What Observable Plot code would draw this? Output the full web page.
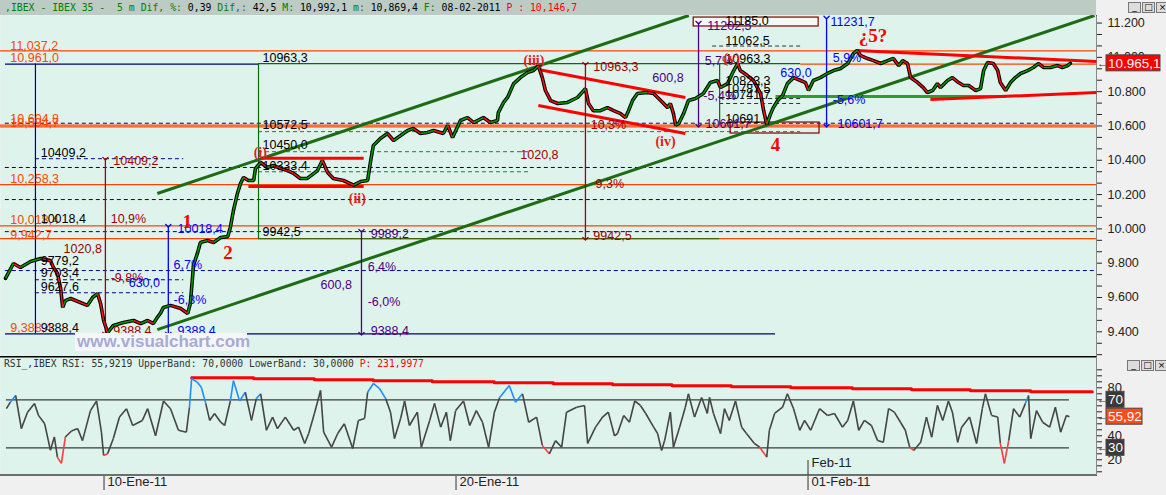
<!DOCTYPE html>
<html><head><meta charset="utf-8">
<script src="https://cdn.jsdelivr.net/npm/d3@7"></script>
<script src="https://cdn.jsdelivr.net/npm/@observablehq/plot@0.6"></script>
<style>
body{margin:0;background:#f0f0f0;width:1166px;height:495px;overflow:hidden;position:relative;font-family:"Liberation Sans",Arial,sans-serif}
#hdr{position:absolute;left:0;top:0;width:1096px;height:15px;background:#bccbc4;font:9.8px "DejaVu Sans Mono",monospace;line-height:15px;white-space:pre;padding-left:5px;box-sizing:border-box;color:#000}
#hdr .g{color:#008000}
#hdr .r{color:#ff0000}
#main{position:absolute;left:0;top:15px}
#rsi{position:absolute;left:0;top:356px}
.btns{position:absolute;display:flex;gap:1px}
.btns span{display:block;width:11px;height:9px;border:1px solid #777;background:#ddd;font:9px/9px "DejaVu Sans",sans-serif;text-align:center;color:#000}
</style></head><body>
<div id="hdr"><span class="g">,IBEX - IBEX 35 -  5 m Dif, %:</span> 0,39 <span class="g">Dif,:</span> 42,5 <span class="g">M:</span> 10,992,1 <span class="g">m:</span> 10,869,4 <span class="g">F:</span> 08-02-2011 <span class="r">P : 10,146,7</span></div>
<div class="btns" style="left:1128px;top:2px"><span>_</span><span>□</span><span>×</span></div>
<div id="main"></div>
<div id="rsi"></div>
<div class="btns" style="left:1127px;top:360px"><span>_</span><span>□</span><span>×</span></div>
<script>
// ---------- DATA ----------
// time axis: trading days relative to 10-Ene-11 open
const priceT = [-2.25,-2.07,-1.91,-1.68,-1.45,-1.23,-1.16,-1.07,-1.00,-0.95,-0.89,-0.77,-0.55,-0.39,-0.27,-0.16,-0.09,-0.02,0.07,0.20,0.43,0.66,0.82,0.98,1.11,1.20,1.27,1.34,1.50,1.73,1.89,1.95,2.00,2.02,2.11,2.18,2.34,2.48,2.64,2.80,2.86,2.93,3.02,3.09,3.16,3.27,3.39,3.43,3.55,3.70,3.84,4.00,4.16,4.30,4.45,4.61,4.84,4.95,5.07,5.20,5.43,5.66,5.82,5.98,6.05,6.11,6.27,6.43,6.57,6.73,6.89,7.02,7.18,7.34,7.48,7.70,7.80,7.91,8.09,8.25,8.39,8.61,8.77,8.93,8.95,9.07,9.16,9.30,9.45,9.61,9.75,9.86,9.95,10.02,10.14,10.30,10.52,10.75,10.93,11.00,11.11,11.27,11.43,11.57,11.73,11.84,11.91,12.00,12.11,12.34,12.48,12.64,12.80,12.86,12.93,12.98,13.05,13.16,13.27,13.43,13.61,13.77,13.93,14.00,14.16,14.30,14.39,14.45,14.61,14.75,14.91,14.98,15.05,15.14,15.20,15.30,15.41,15.52,15.66,15.82,15.93,16.00,16.11,16.27,16.43,16.57,16.73,16.89,17.02,17.11,17.18,17.34,17.48,17.64,17.80,17.93,18.05,18.14,18.25,18.32,18.48,18.61,18.70,18.82,18.93,19.00,19.16,19.27,19.41,19.52,19.64,19.80,19.91,19.98,20.07,20.20,20.30,20.36,20.48,20.59,20.70,20.82,20.98,21.11,21.23,21.34,21.50,21.66,21.77,21.89,21.95];
const priceP = [9711,9798,9775,9810,9827,9815,9775,9740,9658,9542,9582,9594,9571,9554,9600,9623,9565,9466,9395,9437,9454,9466,9448,9466,9448,9484,9507,9542,9554,9536,9507,9565,9716,9786,9857,9921,9932,9921,9950,9955,10008,10107,10206,10264,10300,10282,10282,10352,10387,10358,10370,10352,10340,10323,10294,10294,10340,10399,10329,10294,10282,10255,10276,10282,10399,10486,10527,10556,10515,10544,10574,10585,10556,10562,10574,10556,10603,10533,10632,10649,10620,10649,10620,10632,10678,10737,10766,10847,10882,10911,10923,10950,10882,10807,10748,10731,10737,10766,10818,10731,10689,10689,10707,10689,10672,10649,10689,10748,10789,10795,10789,10748,10707,10731,10672,10605,10614,10672,10748,10760,10789,10853,10865,10824,10847,10923,10963,10923,10894,10865,10789,10689,10610,10672,10707,10748,10777,10847,10882,10865,10853,10807,10865,10882,10906,10923,10935,10964,11022,11040,11011,10993,10981,10964,10981,10993,10952,10981,10964,10882,10853,10824,10795,10807,10847,10824,10865,10882,10853,10836,10836,10807,10818,10923,10970,10964,10923,10853,10807,10853,10882,10906,10923,10941,10964,10941,10941,10952,10941,10952,10965];

const rsiT = [-2.23,-2.14,-2.02,-1.89,-1.75,-1.59,-1.50,-1.36,-1.23,-1.14,-1.07,-0.98,-0.89,-0.75,-0.61,-0.50,-0.32,-0.18,-0.07,-0.02,0.07,0.20,0.34,0.50,0.64,0.86,0.98,1.16,1.34,1.50,1.68,1.86,1.93,1.98,2.11,2.20,2.30,2.39,2.50,2.64,2.73,2.86,2.93,3.07,3.20,3.34,3.45,3.55,3.68,3.82,3.93,4.11,4.30,4.41,4.55,4.64,4.77,4.91,4.98,5.16,5.30,5.45,5.64,5.77,5.91,5.98,6.11,6.25,6.39,6.50,6.59,6.73,6.82,6.93,7.11,7.20,7.39,7.50,7.64,7.77,7.86,7.98,8.16,8.30,8.45,8.59,8.73,8.86,8.98,9.20,9.34,9.50,9.64,9.82,9.95,10.11,10.25,10.39,10.50,10.73,10.91,10.98,11.16,11.32,11.45,11.59,11.66,11.80,11.93,12.05,12.18,12.30,12.48,12.57,12.66,12.73,12.86,12.93,13.07,13.20,13.27,13.41,13.57,13.70,13.75,13.84,14.00,14.09,14.20,14.34,14.48,14.59,14.77,14.89,15.05,15.11,15.23,15.41,15.52,15.66,15.80,15.91,16.05,16.25,16.43,16.59,16.77,16.89,17.02,17.14,17.27,17.43,17.57,17.70,17.82,17.95,18.09,18.20,18.30,18.39,18.55,18.68,18.80,18.93,19.05,19.18,19.27,19.39,19.48,19.66,19.82,19.95,20.02,20.16,20.30,20.36,20.45,20.55,20.66,20.80,20.93,21.00,21.05,21.18,21.32,21.48,21.61,21.73,21.86,21.93];
const rsiV = [62.6,68,73.6,46,59.7,67,57,50,28,39,22,17,39,44,46,36,61,69,43,23.6,25,37.7,55.6,62.6,48.6,52.8,62.6,40,69,62.6,44.6,43,63.8,87.7,84.6,80.5,67,52.8,58.6,51.3,48.6,69,86,69,76.3,52.8,71,75,44.6,55.6,46,55.6,44.6,47.2,33.6,41.9,58.6,77.8,43,30.5,41.9,50,29.4,52.8,54.4,76.3,83.6,79.4,71,59.7,37.7,54.4,69,48.6,59.7,30.5,52.8,67,47.2,59.7,36,61,69,48.6,61,51.3,30.5,59.7,72,81.9,68,75,51.3,55.6,32,25,36,30.5,59.7,63.8,65.3,33.6,47.2,55.6,59.7,40,41.9,57,51.3,69,65.3,58.6,47.2,41.9,27.8,36,59.7,30.5,47.2,63.8,75,55.6,72,58.6,72,58.6,41.9,62.6,52.8,69,47.2,41.9,33.6,30.5,22.2,44.6,58.6,63.8,75,62.6,44.6,52.8,44.6,62.6,57,58.6,47.2,52.8,69,44.6,52.8,48.6,36,34.6,62.6,59.7,51.3,44.6,30.5,27.8,34.6,55.6,38.8,65.3,52.8,69,59.7,34.6,47.2,55.6,33.6,62.6,75,57,55.6,33.6,17,36,62.6,55.6,67,73.6,37.7,61,51.3,47.2,63.8,43,57,55.92];

const rsiCapT = [1.98,3.39,4.77,6.11,7.45,8.86,10.2,11.55,12.9,14.25,15.6,17.0,18.34,19.68,21.05,22.45];
const rsiCapV = [88.3,87.5,86.7,85.9,85.0,84.2,83.4,82.5,81.7,80.8,80.0,79.2,78.3,77.5,76.7,76.7];
const rsiBands = [70, 30];
const rsiTickLabels = [20, 40, 80];

const dateTicks = [{t:0,s:"10-Ene-11"},{t:8,s:"20-Ene-11"},{t:16,s:"01-Feb-11"}];
const monthTicks = [{t:16,s:"Feb-11"}];

// horizontal levels
const orangeFull = [11037.2, 10604.8, 10594.5, 10258.3, 10018.0, 9942.7];
const orangeSegs = [{p:10961.0,t1:15.82,t2:22.545}];
const navySegs = [{p:10961.0,t1:-2.25,t2:3.5},{p:9388.4,t1:-2.25,t2:15.25}];
const greenSegs = [{p:10963.3,t1:3.5,t2:15.82},{p:9942.5,t1:3.5,t2:13.98}];
const navyDashFull = [10616, 10358, 10171, 9984, 9757];
const navyDashShort = [{p:10409.2,t1:-1.57,t2:1.80},{p:9703.4,t1:-1.57,t2:1.80},{p:9627.6,t1:-1.57,t2:1.80}];
const greenDash = [{p:10567,t1:3.5,t2:15.82},{p:10450,t1:3.5,t2:9.68},{p:10333,t1:3.5,t2:9.68}];
const darkDash = [{p:11066,t1:13.82,t2:15.82},{p:10760,t1:13.98,t2:15.82},{p:10731,t1:13.98,t2:15.82}];
const navyVert = [{t:-1.57,p1:9388.4,p2:10961}];
const greenVert = [{t:3.5,p1:9942.5,p2:10963.3},{t:13.98,p1:10601.7,p2:10963.3}];

const channels = [{t1:1.20,p1:10206,t2:13.28,p2:11244},{t1:1.20,p1:9413,t2:22.5,p2:11244}];
const redLines = [
  {t1:3.55,p1:10412,t2:5.89,p2:10412},{t1:3.27,p1:10247,t2:5.89,p2:10247},
  {t1:9.86,p1:10929,t2:13.2,p2:10766},{t1:9.86,p1:10719,t2:13.2,p2:10556},
  {t1:17.07,p1:11040,t2:22.545,p2:10976},{t1:18.77,p1:10754,t2:22.545,p2:10795}];
const greenSupport = [{t1:15.25,p1:10772,t2:20.48,p2:10772}];
const boxTop = [{t1:13.39,t2:16.23,p1:11232,p2:11180}];
const boxLow = [{t1:14.23,t2:16.25,p1:10620,p2:10556}];

const arrowsDarkRed = [{t:0.02,top:10409.2,bot:9388.4},{t:10.93,top:10963.3,bot:9942.5}];
const arrowsBlue = [{t:1.45,top:10018.4,bot:9388.4},{t:16.41,top:11231.7,bot:10601.7}];
const arrowsPurple = [{t:5.84,top:9989.2,bot:9388.4},{t:13.5,top:11202.5,bot:10601.7}];

const orangeLabels = [{t:-2.14,p:11069,s:"11,037,2"},{t:-2.14,p:10997,s:"10,961,0"},{t:-2.14,p:10640,s:"10,604,8"},{t:-2.14,p:10620,s:"10,594,7"},{t:-2.14,p:10288,s:"10,258,3"},{t:-2.14,p:10052,s:"10,018,4"},{t:-2.14,p:9967,s:"9,942,7"},{t:-2.14,p:9420,s:"9,388,4"}];
const blackLabels = [{t:3.59,p:10999,s:"10963,3"},{t:3.59,p:10608,s:"10572,5"},{t:3.59,p:10491,s:"10450,0"},{t:3.59,p:10369,s:"10333,4"},{t:3.59,p:9979,s:"9942,5"},{t:-1.45,p:10445,s:"10409,2"},{t:-1.45,p:10055,s:"10018,4"},{t:-1.45,p:9815,s:"9779,2"},{t:-1.45,p:9740,s:"9703,4"},{t:-1.45,p:9664,s:"9627,6"},{t:-1.45,p:9420,s:"9388,4"},{t:14.11,p:11212,s:"11185,0"},{t:14.11,p:11098,s:"11062,5"},{t:14.11,p:10993,s:"10963,3"},{t:14.11,p:10865,s:"10823,3"},{t:14.11,p:10815,s:"10787,5"},{t:14.11,p:10783,s:"10741,7"},{t:14.11,p:10643,s:"10691"}];
const darkRedLabels = [{t:0.2,p:10395,s:"10409,2"},{t:0.14,p:10055,s:"10,9%"},{t:-0.93,p:9880,s:"1020,8"},{t:0.14,p:9711,s:"-9,8%"},{t:0.2,p:9402,s:"9388,4"},{t:11.11,p:10941,s:"10963,3"},{t:9.45,p:10433,s:"1020,8"},{t:11.16,p:10259,s:"9,3%"},{t:11.11,p:9961,s:"9942,5"},{t:11.05,p:10608,s:"10,3%"}];
const blueLabels = [{t:1.66,p:10002,s:"10018,4"},{t:1.57,p:9787,s:"6,7%"},{t:0.55,p:9682,s:"630,0"},{t:1.57,p:9583,s:"-6,3%"},{t:1.66,p:9402,s:"9388,4"},{t:16.5,p:11208,s:"11231,7"},{t:16.55,p:10999,s:"5,9%"},{t:15.36,p:10906,s:"630,0"},{t:16.55,p:10754,s:"-5,6%"},{t:16.66,p:10614,s:"10601,7"}];
const purpleLabels = [{t:6.05,p:9973,s:"9989,2"},{t:5.98,p:9775,s:"6,4%"},{t:4.91,p:9670,s:"600,8"},{t:5.98,p:9571,s:"-6,0%"},{t:6.05,p:9402,s:"9388,4"},{t:13.7,p:11185,s:"11202,5"},{t:13.64,p:10981,s:"5,7%"},{t:12.45,p:10882,s:"600,8"},{t:13.61,p:10777,s:"-5,4%"},{t:13.66,p:10614,s:"10601,7"}];
const waveBig = [{t:1.77,p:10043,s:"1"},{t:2.70,p:9862,s:"2"},{t:15.14,p:10492,s:"4"},{t:17.14,p:11127,s:"¿5?"}];
const waveSmall = [{t:3.39,p:10445,s:"(i)"},{t:5.55,p:10177,s:"(ii)"},{t:9.52,p:10981,s:"(iii)"},{t:12.52,p:10509,s:"(iv)"},{t:14.07,p:10993,s:"(v)"}];

const lastPrice = 10965.1, lastPriceLabel = "10.965,1";
const lastRsi = 55.92, lastRsiLabel = "55,92";

// ---------- BUILD ----------
const X_DOMAIN = [-2.364, 22.545];
const MINT = "#dff3ed";
const OR = "#ff4500", NV = "#000080", GR = "#0b6b0b", DR = "#a00000", BL = "#0000ff", PU = "#4b0082", RD = "#ff0000";
const FONT = "Liberation Sans, Arial, sans-serif";

const pts = priceT.slice(0, Math.min(priceT.length, priceP.length)).map((t,i)=>({t, p: priceP[i]}));
const segs = pts.slice(1).map((d,i)=>({t1: pts[i].t, p1: pts[i].p, t2: d.t, p2: d.p, c: d.p >= pts[i].p ? "#00a000" : "#ff1010"}));
const rpts = rsiT.slice(0, Math.min(rsiT.length, rsiV.length)).map((t,i)=>({t, v: rsiV[i]}));
const rsegs = rpts.slice(1).map((d,i)=>{ const a = (d.v + rpts[i].v)/2; return {t1: rpts[i].t, v1: rpts[i].v, t2: d.t, v2: d.v, c: a > 70 ? "#1e8fff" : a < 30 ? "#ff3b3b" : "#454545"}; });
const caps = rsiCapT.map((t,i)=>({t, v: rsiCapV[i]}));

const priceTicks = d3.range(0, 31).map(i => 9200 + i*200/3).filter(d => d > 9260 && d < 11240);
const fmtPrice = d => Math.abs(d/200 - Math.round(d/200)) > 1e-6 ? "" : d3.format(",")(Math.round(d)).replace(/,/g, ".");

const lbl = (data, fill, extra={}) => Plot.text(data, {x:"t", y:"p", text:"s", textAnchor:"start", fill, fontSize:12.5, fontFamily: FONT, ...extra});

const mainPlot = Plot.plot({
  width: 1166, height: 341,
  marginLeft: 0, marginRight: 70, marginTop: 0, marginBottom: 0,
  style: {background:"#f0f0f0", fontFamily: FONT, fontSize: "12.5px", color: "#222"},
  x: {domain: X_DOMAIN, axis: null},
  y: {domain: [9256, 11244], axis: "right", ticks: priceTicks, tickFormat: fmtPrice, tickSize: 5, tickPadding: 6, line: true, label: null},
  color: {type: "identity"},
  marks: [
    Plot.frame({fill: MINT, stroke: "none"}),
    Plot.rect(boxTop, {x1:"t1", x2:"t2", y1:"p1", y2:"p2", fill:"#f7f7f7", stroke:"#800000", strokeWidth:1.2}),
    Plot.ruleY(navyDashFull, {x1: X_DOMAIN[0] + 0.11, x2: X_DOMAIN[1], stroke: NV, strokeDasharray: "4,3", strokeWidth: 1}),
    Plot.ruleY(navyDashShort, {y:"p", x1:"t1", x2:"t2", stroke: NV, strokeDasharray: "4,3"}),
    Plot.ruleY(greenDash, {y:"p", x1:"t1", x2:"t2", stroke: "#207a40", strokeDasharray: "4,3"}),
    Plot.ruleY(darkDash, {y:"p", x1:"t1", x2:"t2", stroke: "#333", strokeDasharray: "4,3"}),
    Plot.ruleY(orangeFull, {stroke: OR, strokeWidth: 1.3}),
    Plot.ruleY(orangeSegs, {y:"p", x1:"t1", x2:"t2", stroke: OR, strokeWidth: 1.3}),
    Plot.ruleY(navySegs, {y:"p", x1:"t1", x2:"t2", stroke: NV, strokeWidth: 1.3}),
    Plot.ruleY(greenSegs, {y:"p", x1:"t1", x2:"t2", stroke: GR, strokeWidth: 1.2}),
    Plot.ruleX(navyVert, {x:"t", y1:"p1", y2:"p2", stroke: NV, strokeWidth: 1.2}),
    Plot.ruleX(greenVert, {x:"t", y1:"p1", y2:"p2", stroke: GR, strokeWidth: 1.2}),
    Plot.rect(boxLow, {x1:"t1", x2:"t2", y1:"p1", y2:"p2", fill:"none", stroke:"#800000", strokeWidth:1.2}),
    Plot.link(channels, {x1:"t1", y1:"p1", x2:"t2", y2:"p2", stroke: "#1d6b12", strokeWidth: 3}),
    Plot.link(greenSupport, {x1:"t1", y1:"p1", x2:"t2", y2:"p2", stroke: "#2aa02a", strokeWidth: 3}),
    Plot.link(redLines, {x1:"t1", y1:"p1", x2:"t2", y2:"p2", stroke: RD, strokeWidth: 3}),
    Plot.link(arrowsDarkRed, {x1:"t", x2:"t", y1:"top", y2:"bot", stroke: DR, strokeWidth: 1.3, markerStart:"arrow", markerEnd:"arrow"}),
    Plot.link(arrowsBlue, {x1:"t", x2:"t", y1:"top", y2:"bot", stroke: BL, strokeWidth: 1.3, markerStart:"arrow", markerEnd:"arrow"}),
    Plot.link(arrowsPurple, {x1:"t", x2:"t", y1:"top", y2:"bot", stroke: PU, strokeWidth: 1.3, markerStart:"arrow", markerEnd:"arrow"}),
    Plot.line(pts, {x:"t", y:"p", stroke:"#000", strokeWidth: 3.6, strokeLinejoin:"miter"}),
    Plot.link(segs, {x1:"t1", y1:"p1", x2:"t2", y2:"p2", stroke:"c", strokeWidth: 1.5}),
    lbl(orangeLabels, OR),
    lbl(blackLabels, "#000"),
    lbl(darkRedLabels, DR),
    lbl(blueLabels, BL),
    lbl(purpleLabels, PU),
    lbl(waveBig, RD, {fontSize: 19, fontWeight: "bold", fontFamily: "Liberation Serif, DejaVu Serif, serif"}),
    lbl(waveSmall, "#e02020", {fontSize: 14, fontWeight: "bold", fontFamily: "Liberation Serif, DejaVu Serif, serif"})
  ]
});
document.getElementById("main").appendChild(mainPlot);

const rsiPlot = Plot.plot({
  width: 1166, height: 139,
  marginLeft: 0, marginRight: 70, marginTop: 0, marginBottom: 20,
  style: {background:"#f0f0f0", fontFamily: FONT, fontSize: "13px", color: "#222"},
  x: {domain: X_DOMAIN, axis: null},
  y: {domain: [6.9, 106.1], axis: "right", ticks: d3.range(10, 100, 5), tickFormat: d => (rsiTickLabels.includes(d) ? String(d) : ""), tickSize: 5, tickPadding: 6, line: true, label: null},
  color: {type: "identity"},
  marks: [
    Plot.frame({fill: MINT, stroke: "none"}),
    Plot.ruleY(rsiBands, {x1: rsiT[0], x2: rsiT[rsiT.length-1], stroke: "#3c3c3c", strokeWidth: 1.3}),
    Plot.line(caps, {x:"t", y:"v", curve:"step-after", stroke: RD, strokeWidth: 3}),
    Plot.link(rsegs, {x1:"t1", y1:"v1", x2:"t2", y2:"v2", stroke:"c", strokeWidth: 1.6}),
    Plot.text(dateTicks, {x:"t", text:"s", frameAnchor:"bottom", textAnchor:"start", dx: 3, dy: 10, fontSize: 13, fill:"#222"}),
    Plot.text(monthTicks, {x:"t", text:"s", frameAnchor:"bottom", textAnchor:"start", dx: 3, dy: -9, fontSize: 13, fill:"#222"})
  ]
});
document.getElementById("rsi").appendChild(rsiPlot);

// ---------- overlays using the plots' own scales ----------
function lin(plot, k){ const s = plot.scale(k); return d3.scaleLinear(s.domain, s.range); }
const Xm = lin(mainPlot, "x"), Ym = lin(mainPlot, "y");
const Xr = lin(rsiPlot, "x"), Yr = lin(rsiPlot, "y");
const sm = d3.select(mainPlot), sr = d3.select(rsiPlot);
const right = Xm.range()[1];

function valueBox(svg, y, text, fill, w){
  const g = svg.append("g").attr("font-family", FONT).attr("text-anchor", "start");
  g.append("text").attr("x", right + 1).attr("y", y).attr("dy", "0.35em").attr("font-size", 11).attr("fill", "#333").text("←");
  g.append("rect").attr("x", right + 10).attr("y", y - 8).attr("width", w).attr("height", 16).attr("fill", fill).attr("stroke", "#444");
  g.append("text").attr("x", right + 12).attr("y", y).attr("dy", "0.36em").attr("font-size", 13.5).attr("fill", "#fff").text(text);
}
valueBox(sm, Ym(lastPrice), lastPriceLabel, "#ff0000", 54);

// watermark
const wm = sm.append("g").attr("text-anchor", "start");
wm.append("rect").attr("x", 75).attr("y", 318).attr("width", 172).attr("height", 18).attr("fill", "#f5f6fa");
wm.append("text").attr("x", 77).attr("y", 332).attr("font-family", FONT).attr("font-weight", "bold").attr("font-size", 17).attr("fill", "#a6acd4").text("www.visualchart.com");

// rsi panel borders, title, boxes, date ticks
sr.append("line").attr("x1", 0).attr("x2", right).attr("y1", 0.75).attr("y2", 0.75).attr("stroke", "#000").attr("stroke-width", 1.5);
const bottom = Yr.range()[0];
sr.append("line").attr("x1", 0).attr("x2", right).attr("y1", bottom).attr("y2", bottom).attr("stroke", "#444").attr("stroke-width", 1.5);
const title = sr.append("text").attr("text-anchor", "start").attr("x", 4).attr("y", 8).attr("dy", "0.35em").attr("font-family", "DejaVu Sans Mono, monospace").attr("font-size", 9.7).attr("fill", "#333");
title.append("tspan").text("RSI_,IBEX RSI: 55,9219 UpperBand: 70,0000 LowerBand: 30,0000 ");
title.append("tspan").attr("fill", "#ff0000").text("P: 231,9977");
valueBox(sr, Yr(70), "70", "#3a3a3a", 18);
valueBox(sr, Yr(lastRsi), lastRsiLabel, "#ff4a1a", 36);
valueBox(sr, Yr(30), "30", "#3a3a3a", 18);
dateTicks.forEach(d => sr.append("line").attr("x1", Xr(d.t)).attr("x2", Xr(d.t)).attr("y1", bottom + 1).attr("y2", bottom + 15).attr("stroke", "#333"));
monthTicks.forEach(d => sr.append("line").attr("x1", Xr(d.t)).attr("x2", Xr(d.t)).attr("y1", bottom - 15).attr("y2", bottom).attr("stroke", "#333"));
</script>
</body></html>
